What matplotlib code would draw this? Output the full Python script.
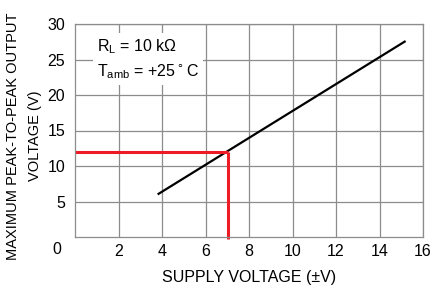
import matplotlib
matplotlib.use("Agg")
import matplotlib.pyplot as plt

# curve: supply voltage (±V) vs max peak-to-peak output (V)
SUPPLY_V = [3.8, 15.2]
OUTPUT_VPP = [6.0, 27.6]

# highlighted operating point
MARK_SUPPLY = 7.05
MARK_OUTPUT = 12.0

X_TICKS = [2, 4, 6, 8, 10, 12, 14, 16]
Y_TICKS = [5, 10, 15, 20, 25, 30]

GRID_COLOR = "#8c8c8c"
LINE_COLOR = "black"
MARK_COLOR = "#ed1c24"
FS = 11.5

plt.rcParams["font.family"] = ["Liberation Sans", "DejaVu Sans"]

fig = plt.figure(figsize=(4.41, 2.90), dpi=100)
ax = fig.add_axes([75 / 441, 1 - 237 / 290, 348 / 441, 213 / 290])

ax.set_xlim(0, 16)
ax.set_ylim(0, 30)
ax.set_xticks(X_TICKS)
ax.set_yticks(Y_TICKS)
ax.tick_params(length=0, labelsize=FS)
ax.tick_params(axis="x", pad=5)
ax.tick_params(axis="y", pad=7)
ax.grid(True, color=GRID_COLOR, linewidth=0.9)
ax.set_axisbelow(True)
for s in ax.spines.values():
    s.set_color(GRID_COLOR)
    s.set_linewidth(0.9)

ax.plot(SUPPLY_V, OUTPUT_VPP, color=LINE_COLOR, linewidth=1.6, solid_capstyle="butt")

ax.plot([0, MARK_SUPPLY], [MARK_OUTPUT, MARK_OUTPUT], color=MARK_COLOR,
        linewidth=2.2, solid_capstyle="butt", clip_on=False)
ax.plot([MARK_SUPPLY, MARK_SUPPLY], [MARK_OUTPUT, -0.3], color=MARK_COLOR,
        linewidth=2.2, solid_capstyle="butt", clip_on=False)

# shared origin label, sits left of the x axis
ax.text(-0.85, -0.025, "0", transform=ax.get_xaxis_transform(), ha="center",
        va="top", fontsize=FS)

ax.text(1.0, 25.1, "$\\mathregular{R_L}$ = 10 kΩ\n$\\mathregular{T_{amb}}$ = +25$^\\circ$C",
        fontsize=FS, va="center", ha="left", linespacing=1.45,
        bbox=dict(facecolor="white", edgecolor="none", pad=3))

ax.set_xlabel("SUPPLY VOLTAGE (±V)", fontsize=FS, labelpad=8)
fig.text(24 / 441, 1 - 136 / 290, "MAXIMUM PEAK-TO-PEAK OUTPUT\nVOLTAGE (V)", rotation=90,
         ha="center", va="center", fontsize=10.5, linespacing=1.65)

fig.savefig("out.png", dpi=100)
